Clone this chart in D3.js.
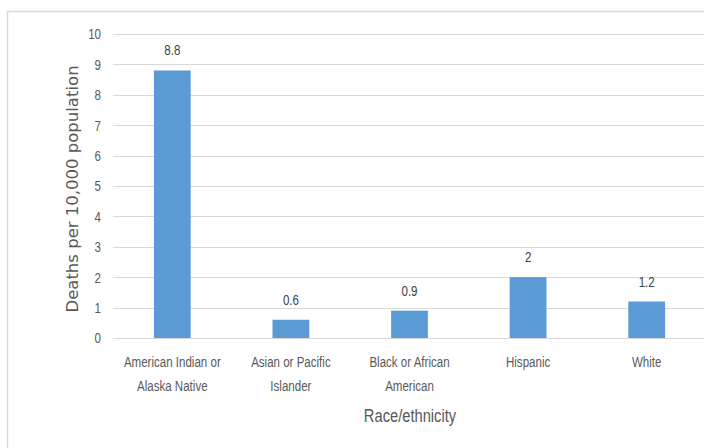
<!DOCTYPE html>
<html><head><meta charset="utf-8">
<script src="https://cdn.jsdelivr.net/npm/d3@7"></script>
<style>body{margin:0;background:#fff}svg{display:block}</style>
</head><body>
<script>
const categories = [["American Indian or","Alaska Native"],["Asian or Pacific","Islander"],["Black or African","American"],["Hispanic"],["White"]];
const values = [8.8, 0.6, 0.9, 2, 1.2];
const valueLabels = ["8.8","0.6","0.9","2","1.2"];
const yTicks = [0,1,2,3,4,5,6,7,8,9,10];
const yTitle = "Deaths per 10,000 population";
const xTitle = "Race/ethnicity";

(function(){
const W = 704, H = 448;
const svg = d3.select("body").append("svg").attr("width", W).attr("height", H);
svg.append("rect").attr("x",7.5).attr("y",11.5).attr("width",W).attr("height",H)
  .attr("fill","#fff").attr("stroke","#d9d9d9").attr("stroke-width",1.5);

const mLeft = 113, mRight = 706, mTop = 34, mBottom = 338;
const x = d3.scaleBand().domain(d3.range(values.length)).range([mLeft, mRight]).paddingInner(0.69).paddingOuter(0.345);
const y = d3.scaleLinear().domain([0,10]).range([mBottom, mTop]);

const font = "'Liberation Sans', sans-serif";
const SX = 0.77;
const g = svg.append("g");
g.selectAll("line.grid").data(yTicks).join("line").attr("class","grid")
  .attr("x1", mLeft).attr("x2", W).attr("y1", d=>Math.round(y(d))+0.5).attr("y2", d=>Math.round(y(d))+0.5)
  .attr("stroke", "#d9d9d9").attr("stroke-width", 1);

const yAxis = d3.axisLeft(y).tickValues(yTicks).tickSize(0).tickPadding(0);
const ya = svg.append("g").attr("transform", `translate(${101},0)`).call(yAxis);
ya.select(".domain").remove();
ya.selectAll(".tick text").attr("x",0).attr("transform",`scale(${SX},1)`)
  .attr("fill","#595959").style("font-family",font).style("font-size","15px");

g.selectAll("rect.bar").data(values).join("rect").attr("class","bar")
  .attr("x",(d,i)=>x(i)).attr("width",x.bandwidth())
  .attr("y",d=>y(d)).attr("height",d=>mBottom-y(d)).attr("fill","#5b9bd5");

g.selectAll("text.val").data(values).join("text").attr("class","val")
  .attr("transform",(d,i)=>`translate(${x(i)+x.bandwidth()/2},${y(d)-15}) scale(${SX},1)`)
  .attr("text-anchor","middle").attr("fill","#404040")
  .style("font-family",font).style("font-size","15px").text((d,i)=>valueLabels[i]);

const cl = g.selectAll("text.cat").data(categories).join("text").attr("class","cat")
  .attr("transform",(d,i)=>`translate(${x(i)+x.bandwidth()/2},367) scale(${SX},1)`)
  .attr("text-anchor","middle").attr("fill","#595959")
  .style("font-family",font).style("font-size","15px");
cl.each(function(d,i){
  const t = d3.select(this);
  d.forEach((line,j)=>{
    t.append("tspan").attr("x", 0).attr("y", j*24).text(line);
  });
});

svg.append("text").attr("transform",`translate(410,422) scale(0.84,1)`).attr("text-anchor","middle")
  .attr("fill","#595959").style("font-family",font).style("font-size","17.5px").text(xTitle);

svg.append("text").attr("transform", `translate(78,189) rotate(-90)`).attr("text-anchor","middle")
  .attr("fill","#595959").style("font-family","'DejaVu Sans', sans-serif").style("font-size","16.5px").text(yTitle);
})();
</script>
</body></html>
